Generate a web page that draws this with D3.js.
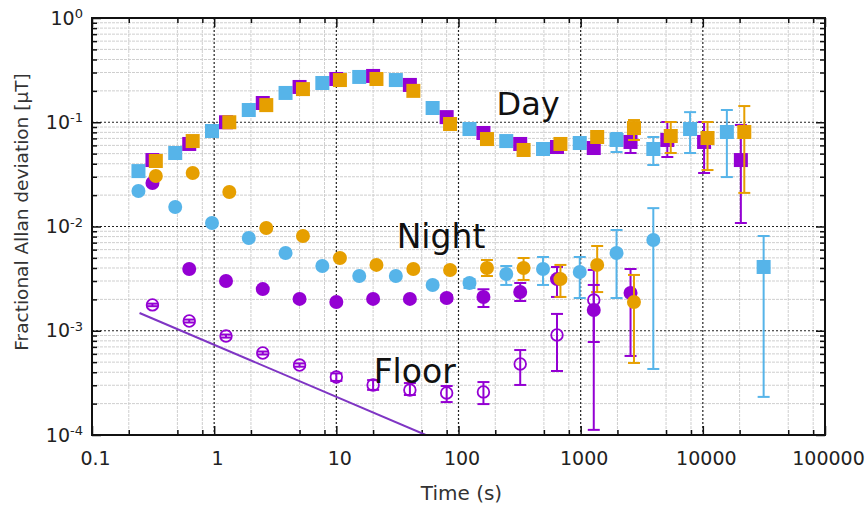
<!DOCTYPE html>
<html>
<head>
<meta charset="utf-8">
<script src="https://cdn.jsdelivr.net/npm/d3@7"></script>
<style>
body{margin:0;background:#fff;}
svg text{font-family:"DejaVu Sans",sans-serif;}
</style>
</head>
<body>
<svg id="container" width="866" height="507"></svg>
<script>
// averaging times (s) for the three data sets
var tauBlue   = [0.24, 0.48, 0.96, 1.92, 3.84, 7.68, 15.4, 30.7, 61.4, 123, 246, 492, 983, 1966, 3932, 7864, 15729, 31457];
var tauPurple = [0.3125, 0.625, 1.25, 2.5, 5, 10, 20, 40, 80, 160, 320, 640, 1280, 2560, 5120, 10240, 20480];
var tauOrange = [0.333, 0.667, 1.33, 2.67, 5.33, 10.7, 21.3, 42.7, 85.3, 171, 341, 683, 1365, 2731, 5461, 10923, 21845];

// Day (squares)
var dayBlue     = [0.034, 0.0507, 0.0824, 0.131, 0.191, 0.238, 0.272, 0.254, 0.137, 0.0861, 0.066, 0.0554, 0.0632, 0.0676, 0.0554, 0.0861, 0.0806, 0.00409];
var dayBlueLo   = [null,null,null,null,null,null,null,null,null,null,null,null,null, 0.0518, 0.0389, 0.0507, 0.0298, 0.000232];
var dayBlueHi   = [null,null,null,null,null,null,null,null,null,null,null,null,null, 0.0789, 0.0722, 0.125, 0.131, 0.00811];
var dayPurple   = [0.0434, 0.0619, 0.1, 0.153, 0.218, 0.26, 0.278, 0.228, 0.112, 0.0789, 0.0619, 0.0579, 0.0566, 0.0647, 0.0676, 0.0647, 0.0434];
var dayPurpleLo = [null,null,null,null,null,null,null,null,null,null,null,null,null, 0.0507, 0.0464, 0.0326, 0.0108];
var dayPurpleHi = [null,null,null,null,null,null,null,null,null,null,null,null,null, 0.0722, 0.1005, 0.1005, 0.0942];
var dayOrange   = [0.0425, 0.066, 0.1, 0.146, 0.208, 0.254, 0.26, 0.2, 0.0962, 0.069, 0.0542, 0.0619, 0.0722, 0.088, 0.0738, 0.0706, 0.0806];
var dayOrangeLo = [null,null,null,null,null,null,null,null,null,null,null,null,null, 0.0676, 0.0507, 0.0348, 0.021];
var dayOrangeHi = [null,null,null,null,null,null,null,null,null,null,null,null,null, 0.105, 0.1005, 0.1005, 0.143];

// Night (filled circles)
var nightBlue     = [0.0219, 0.0154, 0.0108, 0.00776, 0.00557, 0.00418, 0.00335, 0.00335, 0.00275, 0.00287, 0.0035, 0.00391, 0.00366, 0.00557, 0.00742];
var nightBlueLo   = [null,null,null,null,null,null,null,null,null, 0.00257, 0.00275, 0.00275, 0.00206, 0.00206, 0.00043];
var nightBlueHi   = [null,null,null,null,null,null,null,null,null, 0.00313, 0.00418, 0.0051, 0.0051, 0.00925, 0.015];
var nightPurple   = [0.0261, 0.00391, 0.003, 0.00251, 0.00202, 0.00189, 0.00202, 0.00202, 0.00206, 0.00211, 0.00235, 0.00313, 0.00158, 0.0023];
var nightPurpleLo = [null,null,null,null,null,null,null,null, 0.00193, 0.00169, 0.00193, 0.00211, 0.000112, 0.000573];
var nightPurpleHi = [null,null,null,null,null,null,null,null, 0.0022, 0.0025, 0.00287, 0.00409, 0.00383, 0.00391];
var nightOrange   = [0.0305, 0.0326, 0.0214, 0.00968, 0.00811, 0.00499, 0.00428, 0.00391, 0.00383, 0.004, 0.004, 0.00313, 0.00428, 0.00189];
var nightOrangeLo = [null,null,null,null,null,null,null,null, 0.0036, 0.00335, 0.00307, 0.00211, 0.00235, 0.000491];
var nightOrangeHi = [null,null,null,null,null,null,null,null, 0.0041, 0.00477, 0.00499, 0.00428, 0.0065, 0.00343];

// Floor (open circles)
var floorVal = [0.00177, 0.00124, 0.00089, 0.000612, 0.000469, 0.00036, 0.000302, 0.00027, 0.000253, 0.000259, 0.00048, 0.00091, 0.00197];
var floorLo  = [0.00172, 0.0012, 0.00086, 0.000592, 0.000452, 0.00033, 0.000271, 0.000242, 0.000207, 0.000198, 0.000302, 0.000411, 0.00078];
var floorHi  = [0.00182, 0.00128, 0.00092, 0.000632, 0.000486, 0.00039, 0.000336, 0.000315, 0.000295, 0.000322, 0.000653, 0.00145, 0.00275];

// tau^-1/2 floor line
var lineTau = [0.245, 54];
var lineVal = [0.00148, 0.0001];

// text labels placed in data coordinates (tau, value at baseline)
var labelText = ['Day', 'Night', 'Floor'];
var labelTau  = [205, 31.2, 20.2];
var labelVal  = [0.117, 0.00622, 0.000315];
var labelSize = [32, 33, 33];

// axis ticks
var xTicks = [0.1, 1, 10, 100, 1000, 10000, 100000];
var xTickLabels = ['0.1', '1', '10', '100', '1000', '10000', '100000'];
var yTicks = [1, 0.1, 0.01, 0.001, 0.0001];
var yTickExps = ['0', '-1', '-2', '-3', '-4'];

var colors = {blue: '#56b4e9', purple: '#9400d3', orange: '#e69f00'};

var margin = {top: 18, right: 41, bottom: 72, left: 92};
var svg = d3.select('#container');
var W = +svg.attr('width') - margin.left - margin.right;
var H = +svg.attr('height') - margin.top - margin.bottom;

var x = d3.scaleLog().domain([0.1, 100000]).range([0, W]);
var y = d3.scaleLog().domain([0.0001, 1]).range([H, 0]);

var chart = svg.append('g').attr('transform', `translate(${margin.left},${margin.top})`);

// minor tick positions
var xMinor = [], yMinor = [];
xTicks.slice(0, -1).forEach(function(d){ [2, 5, 8].forEach(function(k){ xMinor.push(d*k); }); });
yTicks.slice(1).forEach(function(d){ for(var k=2; k<10; k++) yMinor.push(d*k); });

// grid
var grid = chart.append('g').attr('fill', 'none');
grid.selectAll('.vmin').data(xMinor).enter().append('line')
    .attr('x1', d => x(d)).attr('x2', d => x(d)).attr('y1', 0).attr('y2', H)
    .attr('stroke', '#cfcfcf').attr('stroke-width', 1).attr('stroke-dasharray', '3,1');
grid.selectAll('.hmin').data(yMinor).enter().append('line')
    .attr('x1', 0).attr('x2', W).attr('y1', d => y(d)).attr('y2', d => y(d))
    .attr('stroke', '#cfcfcf').attr('stroke-width', 1).attr('stroke-dasharray', '3,1');
grid.selectAll('.vmaj').data(xTicks.slice(1, -1)).enter().append('line')
    .attr('x1', d => x(d)).attr('x2', d => x(d)).attr('y1', 0).attr('y2', H)
    .attr('stroke', '#222').attr('stroke-width', 1.2).attr('stroke-dasharray', '2,2');
grid.selectAll('.hmaj').data(yTicks.slice(1, -1)).enter().append('line')
    .attr('x1', 0).attr('x2', W).attr('y1', d => y(d)).attr('y2', d => y(d))
    .attr('stroke', '#222').attr('stroke-width', 1.2).attr('stroke-dasharray', '2,2');

// axes: major ticks with labels, minor ticks without, all pointing inwards
function styleAxis(g){
  g.select('.domain').remove();
  g.attr('font-family', '"DejaVu Sans", sans-serif').attr('font-size', 19).attr('color', '#111');
  g.selectAll('.tick line').attr('stroke-width', 1.5);
}
chart.append('g').attr('transform', `translate(0,${H})`)
    .call(d3.axisBottom(x).tickValues(xTicks).tickFormat((d, i) => xTickLabels[i]).tickSizeInner(-9).tickSizeOuter(0).tickPadding(17))
    .call(styleAxis)
  .selectAll('text').attr('dx', 3).attr('fill', '#222');
chart.append('g').attr('transform', `translate(0,${H})`)
    .call(d3.axisBottom(x).tickValues(xMinor).tickFormat('').tickSizeInner(-5).tickSizeOuter(0))
    .call(styleAxis);
chart.append('g')
    .call(d3.axisTop(x).tickValues(xTicks).tickFormat('').tickSizeInner(-9).tickSizeOuter(0))
    .call(styleAxis);
chart.append('g')
    .call(d3.axisTop(x).tickValues(xMinor).tickFormat('').tickSizeInner(-5).tickSizeOuter(0))
    .call(styleAxis);

var yAxisG = chart.append('g')
    .call(d3.axisLeft(y).tickValues(yTicks).tickFormat('').tickSizeInner(-9).tickSizeOuter(0).tickPadding(9))
    .call(styleAxis);
yAxisG.selectAll('.tick text').each(function(d, i){
  var t = d3.select(this).attr('fill', '#222').attr('dy', '0.32em');
  t.append('tspan').text('10');
  t.append('tspan').attr('dy', '-0.5em').attr('font-size', 13).text(yTickExps[i]);
});
chart.append('g')
    .call(d3.axisLeft(y).tickValues(yMinor).tickFormat('').tickSizeInner(-5).tickSizeOuter(0))
    .call(styleAxis);
chart.append('g').attr('transform', `translate(${W},0)`)
    .call(d3.axisRight(y).tickValues(yTicks).tickFormat('').tickSizeInner(-9).tickSizeOuter(0))
    .call(styleAxis);
chart.append('g').attr('transform', `translate(${W},0)`)
    .call(d3.axisRight(y).tickValues(yMinor).tickFormat('').tickSizeInner(-5).tickSizeOuter(0))
    .call(styleAxis);

// clip for data
svg.append('defs').append('clipPath').attr('id', 'plotclip')
  .append('rect').attr('width', W).attr('height', H);
var plot = chart.append('g').attr('clip-path', 'url(#plotclip)');

// floor line
plot.append('path')
    .datum(lineTau.map((t, i) => [t, lineVal[i]]))
    .attr('fill', 'none').attr('stroke', '#7f35c4').attr('stroke-width', 2)
    .attr('d', d3.line().x(d => x(d[0])).y(d => y(d[1])));

// error bars with caps
function errorBars(taus, lo, hi, color){
  var pts = taus.map((t, i) => ({t: t, lo: lo[i], hi: hi[i]})).filter(d => d.lo != null);
  var g = plot.append('g').attr('stroke', color).attr('stroke-width', 2);
  g.selectAll('.bar').data(pts).enter().append('line')
      .attr('x1', d => x(d.t)).attr('x2', d => x(d.t))
      .attr('y1', d => y(d.lo)).attr('y2', d => y(d.hi));
  g.selectAll('.capl').data(pts).enter().append('line')
      .attr('x1', d => x(d.t) - 6).attr('x2', d => x(d.t) + 6)
      .attr('y1', d => y(d.lo)).attr('y2', d => y(d.lo));
  g.selectAll('.caph').data(pts).enter().append('line')
      .attr('x1', d => x(d.t) - 6).attr('x2', d => x(d.t) + 6)
      .attr('y1', d => y(d.hi)).attr('y2', d => y(d.hi));
}

function squares(taus, vals, color){
  plot.append('g').selectAll('rect').data(vals).enter().append('rect')
      .attr('x', (d, i) => x(taus[i]) - 7).attr('y', d => y(d) - 7)
      .attr('width', 14).attr('height', 14).attr('fill', color);
}

function circles(taus, vals, color, open){
  plot.append('g').selectAll('circle').data(vals).enter().append('circle')
      .attr('cx', (d, i) => x(taus[i])).attr('cy', d => y(d))
      .attr('r', open ? 5.8 : 7)
      .attr('fill', open ? 'none' : color)
      .attr('stroke', open ? color : 'none').attr('stroke-width', 1.8);
}

// day
errorBars(tauBlue, dayBlueLo, dayBlueHi, colors.blue);
squares(tauBlue, dayBlue, colors.blue);
errorBars(tauPurple, dayPurpleLo, dayPurpleHi, colors.purple);
squares(tauPurple, dayPurple, colors.purple);
errorBars(tauOrange, dayOrangeLo, dayOrangeHi, colors.orange);
squares(tauOrange, dayOrange, colors.orange);

// night
errorBars(tauBlue, nightBlueLo, nightBlueHi, colors.blue);
circles(tauBlue, nightBlue, colors.blue);
errorBars(tauPurple, nightPurpleLo, nightPurpleHi, colors.purple);
circles(tauPurple, nightPurple, colors.purple);
errorBars(tauOrange, nightOrangeLo, nightOrangeHi, colors.orange);
circles(tauOrange, nightOrange, colors.orange);

// floor
errorBars(tauPurple, floorLo, floorHi, colors.purple);
circles(tauPurple, floorVal, colors.purple, true);

// frame
chart.append('rect').attr('width', W).attr('height', H)
    .attr('fill', 'none').attr('stroke', '#111').attr('stroke-width', 2);

// labels inside the plot
chart.selectAll('.lbl').data(labelText).enter().append('text')
    .attr('x', (d, i) => x(labelTau[i])).attr('y', (d, i) => y(labelVal[i]))
    .attr('font-size', (d, i) => labelSize[i]).attr('fill', '#111')
    .text(d => d);

// axis titles
chart.append('text')
    .attr('text-anchor', 'middle')
    .attr('x', W/2 + 3).attr('y', H + 65)
    .attr('font-size', 20).attr('fill', '#333')
    .text('Time (s)');
chart.append('text')
    .attr('text-anchor', 'middle')
    .attr('transform', 'rotate(-90)')
    .attr('x', -(212 - margin.top)).attr('y', 28 - margin.left)
    .attr('font-size', 18.5).attr('fill', '#333')
    .text('Fractional Allan deviation [\u00b5T]');
</script>
</body>
</html>
